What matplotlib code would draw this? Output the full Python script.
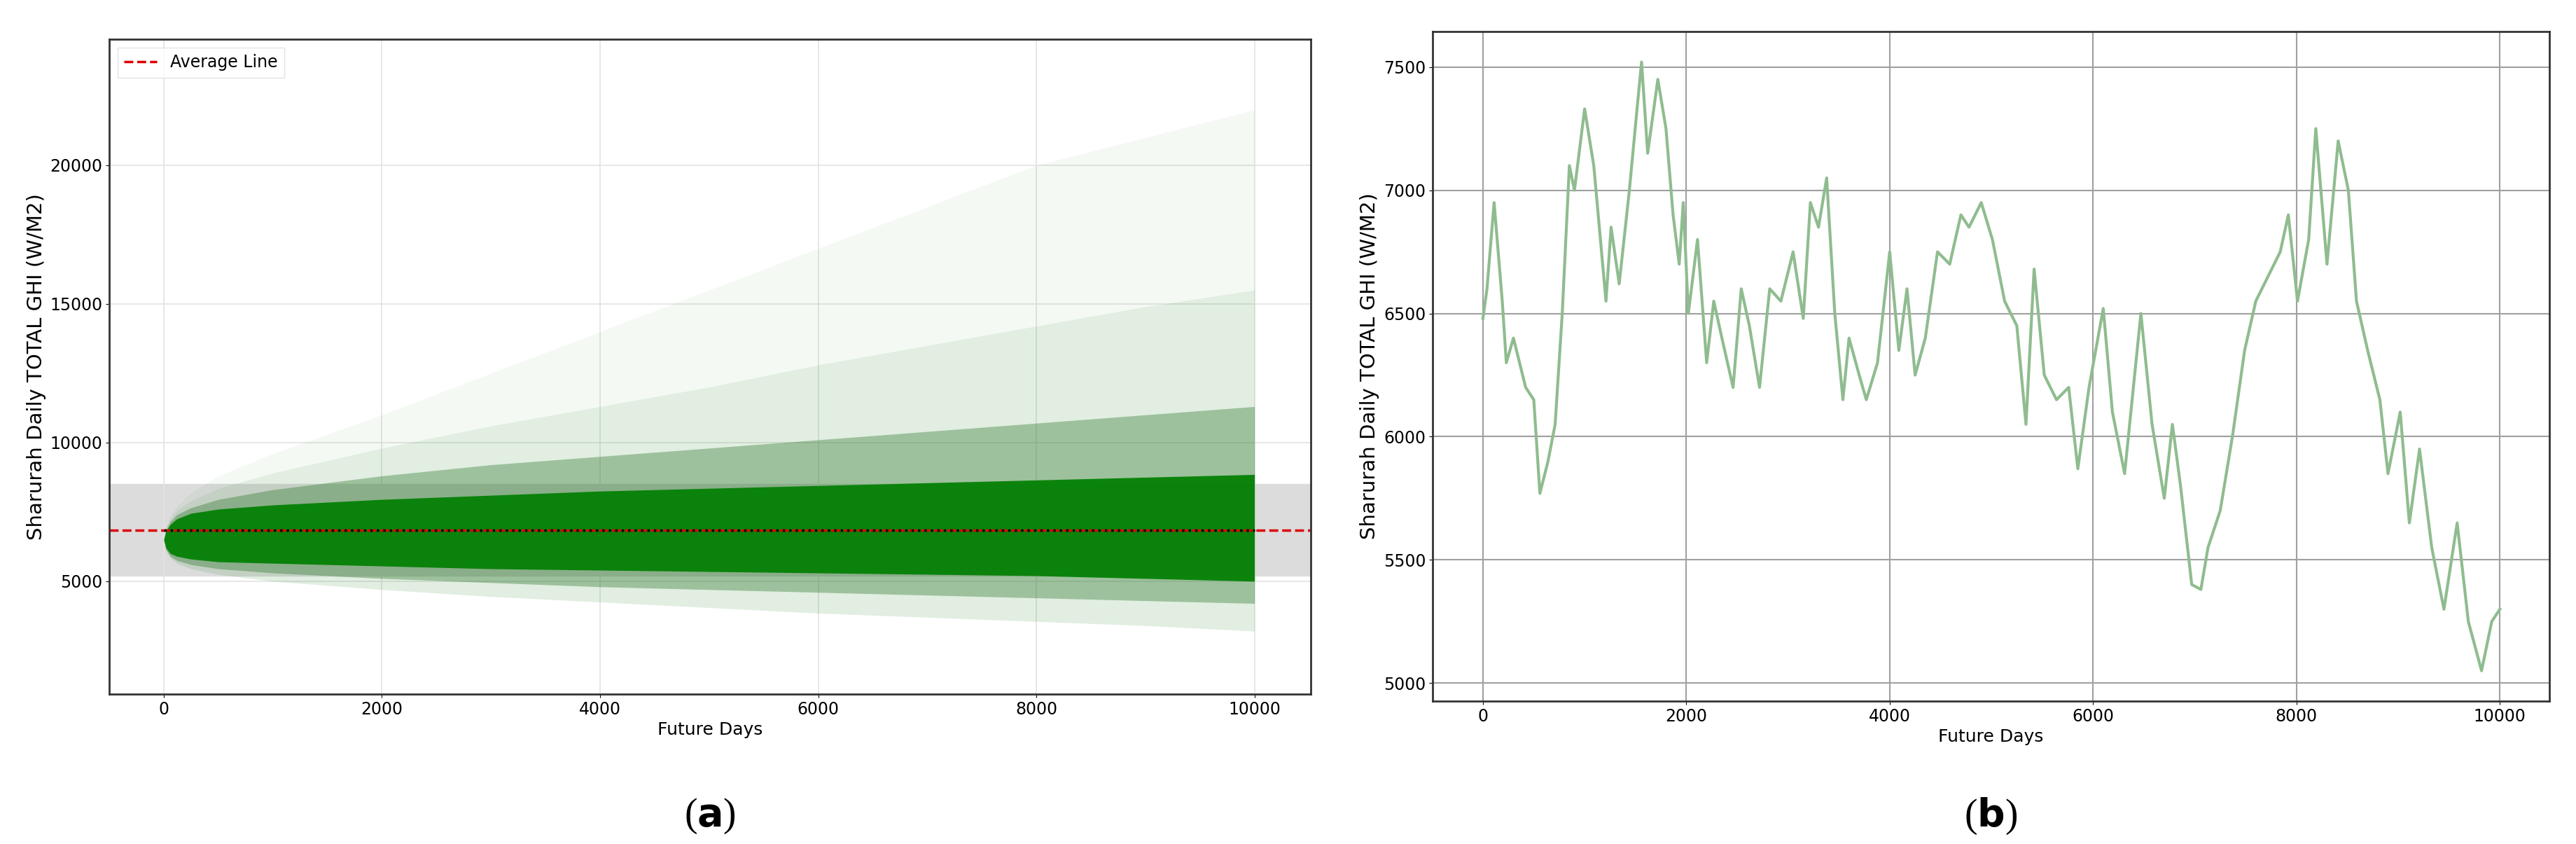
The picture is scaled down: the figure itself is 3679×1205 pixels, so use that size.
import numpy as np
import matplotlib
matplotlib.use("Agg")
import matplotlib.pyplot as plt

# ---- panel (a): simulated fan, bands ----
fan_x = [0, 20, 60, 120, 250, 500, 1000, 2000, 3000, 4000, 5000, 6000, 7000, 8000, 9000, 10000]
core_lo = [6500, 6200, 6000, 5900, 5800, 5700, 5650, 5550, 5450, 5400, 5350, 5300, 5250, 5200, 5100, 5000]
core_hi = [6500, 6800, 7050, 7250, 7450, 7600, 7750, 7950, 8100, 8250, 8350, 8450, 8550, 8650, 8750, 8850]
mid_lo = [6500, 6150, 5900, 5750, 5600, 5450, 5300, 5100, 4950, 4800, 4700, 4600, 4500, 4400, 4300, 4200]
mid_hi = [6500, 6850, 7150, 7400, 7650, 7950, 8300, 8800, 9200, 9500, 9800, 10100, 10400, 10700, 11000, 11300]
out_lo = [6500, 6100, 5850, 5650, 5450, 5250, 5000, 4700, 4450, 4250, 4050, 3850, 3700, 3550, 3400, 3200]
out_hi = [6500, 6900, 7250, 7550, 7900, 8350, 8900, 9800, 10600, 11300, 12000, 12800, 13500, 14200, 14900, 15500]
far_hi = [6500, 6950, 7350, 7700, 8200, 8800, 9600, 11000, 12500, 14000, 15500, 17000, 18500, 20000, 21000, 22000]
average_value = 6850
band_lo, band_hi = 5200, 8500

# ---- panel (b): single path ----
path_x = [0, 40, 110, 190, 230, 300, 420, 500, 560, 640, 710, 780, 850, 900, 1000, 1090, 1210, 1260, 1340, 1440,
          1520, 1560, 1620, 1720, 1800, 1870, 1930, 1970, 2020, 2110, 2200, 2270, 2350, 2460, 2540, 2620, 2720,
          2820, 2930, 3050, 3150, 3220, 3300, 3380, 3460, 3540, 3600, 3700, 3770, 3880, 4000, 4090, 4170, 4250,
          4350, 4470, 4590, 4700, 4780, 4900, 5010, 5130, 5250, 5340, 5420, 5520, 5640, 5760, 5850, 5960, 6100,
          6190, 6310, 6470, 6580, 6700, 6780, 6860, 6970, 7060, 7130, 7250, 7370, 7490, 7600, 7720, 7840, 7920,
          8010, 8120, 8190, 8300, 8410, 8510, 8590, 8700, 8820, 8900, 9020, 9110, 9210, 9330, 9450, 9580, 9690,
          9820, 9920, 10000]
path_y = [6480, 6600, 6950, 6550, 6300, 6400, 6200, 6150, 5770, 5900, 6050, 6500, 7100, 7000, 7330, 7100, 6550,
          6850, 6620, 7000, 7350, 7520, 7150, 7450, 7250, 6900, 6700, 6950, 6500, 6800, 6300, 6550, 6400, 6200,
          6600, 6450, 6200, 6600, 6550, 6750, 6480, 6950, 6850, 7050, 6500, 6150, 6400, 6250, 6150, 6300, 6750,
          6350, 6600, 6250, 6400, 6750, 6700, 6900, 6850, 6950, 6800, 6550, 6450, 6050, 6680, 6250, 6150, 6200,
          5870, 6200, 6520, 6100, 5850, 6500, 6050, 5750, 6050, 5800, 5400, 5380, 5550, 5700, 6000, 6350, 6550,
          6650, 6750, 6900, 6550, 6800, 7250, 6700, 7200, 7000, 6550, 6350, 6150, 5850, 6100, 5650, 5950, 5550,
          5300, 5650, 5250, 5050, 5250, 5300]

fig = plt.figure(figsize=(36.79, 12.05), dpi=100)
W, H = 3679, 1205
ax1 = fig.add_axes([156 / W, 1 - 991 / H, (1872 - 156) / W, (991 - 56) / H])
ax2 = fig.add_axes([2046 / W, 1 - 1001 / H, (3641 - 2046) / W, (1001 - 45) / H])

# panel a
ax1.axhspan(band_lo, band_hi, color="#dcdcdc", zorder=0)
ax1.fill_between(fan_x, out_hi, far_hi, color="#2e8b2e", alpha=0.05, lw=0, zorder=1)
ax1.fill_between(fan_x, out_lo, out_hi, color="#2e8b2e", alpha=0.14, lw=0, zorder=1)
ax1.fill_between(fan_x, mid_lo, mid_hi, color="#1f6f1f", alpha=0.35, lw=0, zorder=1)
ax1.fill_between(fan_x, core_lo, core_hi, color="#007f00", alpha=0.92, lw=0, zorder=1)
ax1.axhline(average_value, color="#dd0000", ls="--", lw=2.5, label="Average Line", zorder=2)
ax1.plot([fan_x[0], fan_x[-1]], [average_value, average_value], color="black", ls=":", lw=2.5, zorder=3)
ax1.set_xlim(-500, 10516)
ax1.set_ylim(930, 24545)
ax1.set_yticks([5000, 10000, 15000, 20000])
ax1.set_xticks([0, 2000, 4000, 6000, 8000, 10000])
ax1.grid(True, color="#e3e3e3", lw=1.2)
ax1.set_axisbelow(True)
ax1.legend(loc="upper left", fontsize=17, frameon=True, fancybox=False, edgecolor="#dddddd")
ax1.set_xlabel("Future Days", fontsize=18)
ax1.set_ylabel("Sharurah Daily TOTAL GHI (W/M2)", fontsize=21)

# panel b
ax2.plot(path_x, path_y, color="#8fbc8f", lw=3)
ax2.set_xlim(-495, 10487)
ax2.set_ylim(4927, 7644)
ax2.set_yticks([5000, 5500, 6000, 6500, 7000, 7500])
ax2.set_xticks([0, 2000, 4000, 6000, 8000, 10000])
ax2.grid(True, color="#a0a0a0", lw=1.5)
ax2.set_axisbelow(True)
ax2.set_xlabel("Future Days", fontsize=18)
ax2.set_ylabel("Sharurah Daily TOTAL GHI (W/M2)", fontsize=21)

for ax in (ax1, ax2):
    ax.tick_params(labelsize=17)
    for s in ax.spines.values():
        s.set_linewidth(2)
        s.set_color("#333333")

fig.text((156 + 1872) / 2 / W, 1 - 1165 / H, r"($\mathbf{a}$)", ha="center", va="center", fontsize=40,
         family="Liberation Serif")
fig.text((2046 + 3641) / 2 / W, 1 - 1165 / H, r"($\mathbf{b}$)", ha="center", va="center", fontsize=40,
         family="Liberation Serif")
fig.savefig("out.png", dpi=100)
